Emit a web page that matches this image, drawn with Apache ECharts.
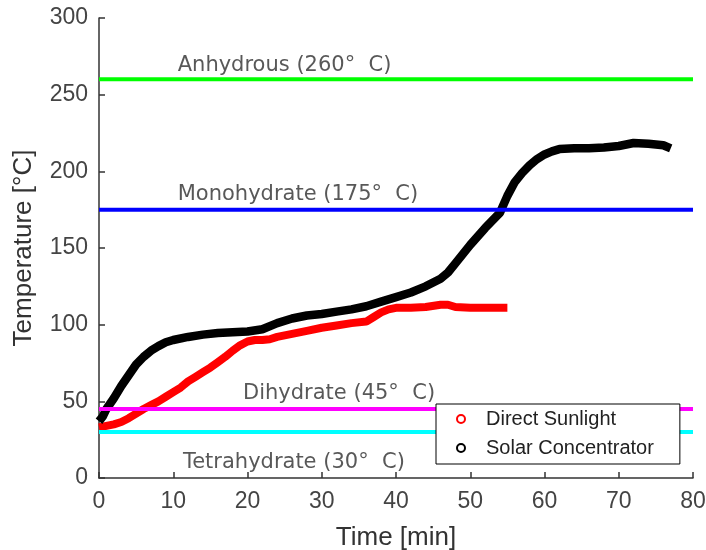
<!DOCTYPE html>
<html>
<head>
<meta charset="utf-8">
<script src="https://cdn.jsdelivr.net/npm/echarts@6/dist/echarts.min.js"></script>
<style>html,body{margin:0;padding:0;background:#fff;}#c{width:706px;height:550px;}</style>
</head>
<body>
<div id="c"></div>
<script>
// Time [min] and temperature [°C]
const solarTime = [0,0.5,1,2,3,4,5,6,7,8,9,10,12,14,16,18,20,22,24,26,28,30,32,34,36,38,40,42,44,46,47,48,50,52,54,55,56,57,58,59,60,61,62,64,66,68,70,72,74,76,77];
const solarTemp = [37,40,45,52,60,67,74,79,83,86,88.5,90,92,93.5,94.5,95,95.5,97,101,104,106,107,108.5,110,112,115,118,121,125,130,134,140,152,163,173,184,193,199,204,208,211,213,214.5,215,215,215.5,216.5,218.5,218,217,215];
const directTime = [0,1,2,3,4,5,6,7,8,9,10,11,12,13,14,15,16,17,18,19,20,21,22,23,24,26,28,30,32,34,36,37,38,39,40,42,44,46,47,48,50,52,54,55];
const directTemp = [33,34,35,36.5,39,42,45,47.5,50,53,56,59,63,66,69,72,75.5,79,83,86.5,89,90,90,90.5,92,94,96,98,99.5,101,102,105,108,110,111,111,111.5,113,113,111.5,111,111,111,111];
const seriesNames = ['Direct Sunlight','Solar Concentrator'];
// Phase reference lines
const phaseNames = ['Anhydrous (260°  C)','Monohydrate (175°  C)','Dihydrate (45°  C)','Tetrahydrate (30°  C)'];
const phaseTemps = [260,175,45,30];
const phaseColors = ['#00ff00','#0000ff','#ff00ff','#00ffff'];
const phaseLabelX = [10.6,10.6,19.4,11.3];
const phaseLabelY = [268.7,184.6,55.4,10.4];
const xTicks = [0,10,20,30,40,50,60,70,80];
const yTicks = [0,50,100,150,200,250,300];

const series = [];
series.push({
  name: seriesNames[0], type:'line', data: directTime.map((t,i)=>[t,directTemp[i]]),
  symbol:'none', lineStyle:{color:'#ff0000', width:8}, itemStyle:{color:'#ff0000'}, z:2
});
series.push({
  name: seriesNames[1], type:'line', data: solarTime.map((t,i)=>[t,solarTemp[i]]),
  symbol:'none', lineStyle:{color:'#000000', width:8.5}, itemStyle:{color:'#000000'}, z:2
});
phaseTemps.forEach((v,i)=>{
  series.push({
    name:'ph'+i, type:'line', data:[[0,v],[80,v]], symbol:'none',
    lineStyle:{color:phaseColors[i], width:4}, z:3, silent:true
  });
  series.push({
    name:'lab'+i, type:'scatter', data:[[phaseLabelX[i],phaseLabelY[i]]], symbolSize:0, z:4, silent:true,
    label:{show:true, position:[0,0], align:'left', verticalAlign:'middle', formatter:phaseNames[i],
      fontFamily:'DejaVu Sans', fontSize:21, color:'#2e2e2e'}
  });
});

const chart = echarts.init(document.getElementById('c'));
chart.setOption({
  animation:false,
  backgroundColor:'#fff',
  grid:{left:99, right:13, top:18, bottom:72, containLabel:false, outerBoundsMode:'none'},
  xAxis:{type:'value', min:xTicks[0], max:xTicks[xTicks.length-1], interval:10,
    name:'Time [min]', nameLocation:'middle', nameGap:47,
    nameTextStyle:{fontFamily:'Liberation Sans', fontSize:26, color:'#333'},
    axisLine:{lineStyle:{color:'#333', width:1.5}},
    axisTick:{inside:true, length:6, lineStyle:{color:'#333', width:1.5}},
    axisLabel:{fontFamily:'Liberation Sans', fontSize:23, color:'#444', margin:12},
    splitLine:{show:false}},
  yAxis:{type:'value', min:yTicks[0], max:yTicks[yTicks.length-1], interval:50,
    name:'Temperature [°C]', nameLocation:'middle', nameGap:62,
    nameTextStyle:{fontFamily:'Liberation Sans', fontSize:26, color:'#333'},
    axisLine:{show:true, lineStyle:{color:'#333', width:1.5}},
    axisTick:{show:true, inside:true, length:6, lineStyle:{color:'#333', width:1.5}},
    axisLabel:{fontFamily:'Liberation Sans', fontSize:23, color:'#444', margin:11},
    splitLine:{show:false}},
  legend:{data:seriesNames, orient:'vertical', left:436, top:404, width:242,
    icon:'emptyCircle', itemWidth:8, itemHeight:8, itemGap:9,
    padding:[5,26,6,20],
    borderColor:'#000', borderWidth:1, backgroundColor:'#fff',
    textStyle:{fontFamily:'Liberation Sans', fontSize:20, color:'#222', padding:[0,0,0,16]}},
  series:series
});
</script>
</body>
</html>
